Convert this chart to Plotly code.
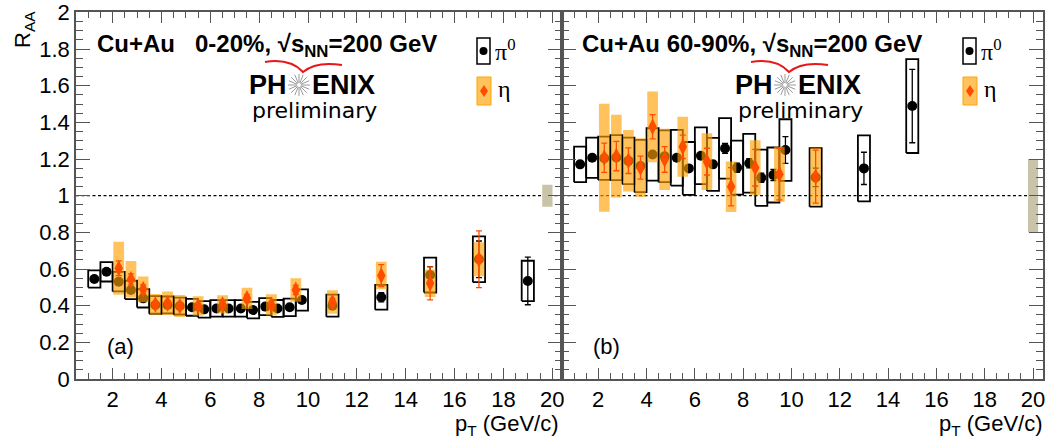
import math
import plotly.graph_objects as go

FW, FH = 1051, 446

# ---------------- data ----------------
# Cu+Au 0-20%
pi0_pt_c = [1.25, 1.75, 2.25, 2.75, 3.25, 3.75, 4.25, 4.75, 5.25, 5.75, 6.25, 6.75, 7.25, 7.75,
            8.25, 8.75, 9.25, 9.75, 11, 13, 15, 17, 19]
pi0_raa_c = [0.546, 0.585, 0.531, 0.486, 0.44, 0.404, 0.404, 0.398, 0.391, 0.38, 0.385, 0.385, 0.385,
             0.376, 0.395, 0.385, 0.391, 0.431, 0.40, 0.446, 0.567, 0.653, 0.535]
pi0_stat_c = [0.005, 0.005, 0.005, 0.005, 0.005, 0.005, 0.005, 0.005, 0.005, 0.005, 0.005, 0.005, 0.006,
              0.006, 0.007, 0.008, 0.009, 0.01, 0.012, 0.025, 0.046, 0.10, 0.13]
pi0_sys_c = [0.047, 0.053, 0.053, 0.05, 0.05, 0.048, 0.046, 0.046, 0.046, 0.045, 0.045, 0.045, 0.045,
             0.045, 0.046, 0.046, 0.048, 0.058, 0.06, 0.068, 0.095, 0.125, 0.11]

eta_pt_c = [2.25, 2.75, 3.25, 3.75, 4.25, 4.75, 5.5, 6.5, 7.5, 8.5, 9.5, 11, 13, 15, 17]
eta_raa_c = [0.604, 0.544, 0.489, 0.407, 0.413, 0.398, 0.398, 0.407, 0.44, 0.404, 0.486, 0.42,
             0.564, 0.522, 0.653]
eta_stat_c = [0.04, 0.03, 0.025, 0.015, 0.015, 0.015, 0.015, 0.015, 0.02, 0.02, 0.025, 0.02,
              0.06, 0.09, 0.155]
eta_sys_c = [0.145, 0.10, 0.07, 0.057, 0.064, 0.06, 0.053, 0.05, 0.058, 0.058, 0.064, 0.064,
             0.075, 0.075, 0.093]

# Cu+Au 60-90%
pi0_pt_p = [1.25, 1.75, 2.25, 2.75, 3.25, 3.75, 4.25, 4.75, 5.25, 5.75, 6.25, 6.75, 7.25, 7.75,
            8.25, 8.75, 9.25, 9.75, 11, 13, 15]
pi0_raa_p = [1.171, 1.207, 1.204, 1.208, 1.19, 1.162, 1.225, 1.215, 1.207, 1.149, 1.218, 1.171, 1.258,
             1.153, 1.177, 1.098, 1.113, 1.249, 1.10, 1.149, 1.489]
pi0_stat_p = [0.008, 0.008, 0.008, 0.008, 0.008, 0.009, 0.01, 0.01, 0.012, 0.013, 0.015, 0.018, 0.027,
              0.025, 0.025, 0.025, 0.03, 0.073, 0.05, 0.088, 0.2]
pi0_sys_p = [0.097, 0.11, 0.118, 0.123, 0.127, 0.143, 0.143, 0.141, 0.152, 0.144, 0.155, 0.145, 0.165,
             0.147, 0.16, 0.153, 0.15, 0.168, 0.16, 0.18, 0.256]

eta_pt_p = [2.25, 2.75, 3.25, 3.75, 4.25, 4.75, 5.5, 6.5, 7.5, 8.5, 9.5, 11]
eta_raa_p = [1.207, 1.216, 1.191, 1.153, 1.376, 1.198, 1.267, 1.186, 1.049, 1.153, 1.117, 1.104]
eta_stat_p = [0.08, 0.08, 0.07, 0.063, 0.066, 0.07, 0.064, 0.073, 0.104, 0.10, 0.14, 0.145]
eta_sys_p = [0.294, 0.226, 0.168, 0.16, 0.193, 0.167, 0.164, 0.155, 0.138, 0.15, 0.15, 0.156]

# global normalisation uncertainty boxes (one per panel)
norm_x = [19.8, 20.0]
norm_unc = [0.06, 0.20]

x_ticks = [2, 4, 6, 8, 10, 12, 14, 16, 18, 20]
y_ticks = [0, 0.2, 0.4, 0.6, 0.8, 1.0, 1.2, 1.4, 1.6, 1.8, 2.0]

panel_titles = ["Cu+Au\u00a0\u00a0\u00a00-20%, \u221as<sub>NN</sub>=200 GeV",
                "Cu+Au 60-90%, \u221as<sub>NN</sub>=200 GeV"]
panel_tags = ["(a)", "(b)"]

# ---------------- styles ----------------
PI0_HW = 0.25
ETA_HW = 0.22
ETA_FILL = "rgba(255,160,0,0.64)"
ETA_COL = "#ff4d00"
NORM_COL = "#c9c4a9"
AX_COL = "#555555"


def px(X):
    return X / FW


def py(Y):
    return 1 - Y / FH


def box_outline(xs, ys, errs, hw):
    """closed rectangles (separated by None) built from the data arrays"""
    bx, by = [], []
    for x, y, e in zip(xs, ys, errs):
        bx += [x - hw, x + hw, x + hw, x - hw, x - hw, None]
        by += [y - e, y - e, y + e, y + e, y - e, None]
    return bx, by


fig = go.Figure()

panels = [
    ("x", "y", pi0_pt_c, pi0_raa_c, pi0_stat_c, pi0_sys_c, eta_pt_c, eta_raa_c, eta_stat_c, eta_sys_c),
    ("x2", "y2", pi0_pt_p, pi0_raa_p, pi0_stat_p, pi0_sys_p, eta_pt_p, eta_raa_p, eta_stat_p, eta_sys_p),
]

for i, (xa, ya, ppt, praa, pst, psy, ept, eraa, est, esy) in enumerate(panels):
    # normalisation uncertainty
    nx, ny = box_outline([norm_x[i]], [1.0], [norm_unc[i]], 0.21)
    fig.add_trace(go.Scatter(x=nx, y=ny, mode="lines", fill="toself", fillcolor=NORM_COL,
                             line=dict(width=0, color=NORM_COL), xaxis=xa, yaxis=ya,
                             showlegend=False, hoverinfo="skip"))
    # pi0 systematic boxes
    bx, by = box_outline(ppt, praa, psy, PI0_HW)
    fig.add_trace(go.Scatter(x=bx, y=by, mode="lines", line=dict(color="black", width=1.8),
                             xaxis=xa, yaxis=ya, showlegend=False, hoverinfo="skip"))
    # pi0 points
    fig.add_trace(go.Scatter(x=ppt, y=praa, mode="markers",
                             marker=dict(symbol="circle", size=10, color="black"),
                             error_y=dict(type="data", array=pst, color="black", thickness=1.3, width=3),
                             xaxis=xa, yaxis=ya, showlegend=False, name="\u03c0<sup>0</sup>"))
    # eta systematic boxes (drawn over the pi0 points)
    ex, ey = box_outline(ept, eraa, esy, ETA_HW)
    fig.add_trace(go.Scatter(x=ex, y=ey, mode="lines", fill="toself", fillcolor=ETA_FILL,
                             line=dict(width=0, color=ETA_FILL),
                             xaxis=xa, yaxis=ya, showlegend=False, hoverinfo="skip"))
    # eta points
    fig.add_trace(go.Scatter(x=ept, y=eraa, mode="markers",
                             marker=dict(symbol="diamond-tall", size=12, color=ETA_COL),
                             error_y=dict(type="data", array=est, color=ETA_COL, thickness=1.3, width=3),
                             xaxis=xa, yaxis=ya, showlegend=False, name="\u03b7"))

shapes = []
annotations = []

for xa, ya in [("x", "y"), ("x2", "y2")]:
    shapes.append(dict(type="line", xref=xa + " domain", yref=ya, x0=0, x1=1, y0=1, y1=1,
                       line=dict(color="black", width=1.2, dash="3px,2.5px"), layer="below"))

axis_common = dict(showgrid=False, zeroline=False, showline=True, linecolor=AX_COL, linewidth=1.5,
                   mirror="allticks", ticks="inside", tickcolor=AX_COL, tickwidth=1, automargin=False)
xminor = dict(tickmode="linear", tick0=0, dtick=0.5, ticklen=6, ticks="inside", tickcolor=AX_COL)
yminor = dict(tickmode="linear", tick0=0, dtick=0.05, ticklen=7, ticks="inside", tickcolor=AX_COL)

fig.update_layout(
    width=FW, height=FH, margin=dict(l=0, r=0, t=0, b=0, pad=0, autoexpand=False),
    autosize=False,
    paper_bgcolor="white", plot_bgcolor="white", showlegend=False,
    font=dict(family="Liberation Sans, Arial, sans-serif", color="black"),
    xaxis=dict(domain=[px(76), px(562)], range=[0.5, 20.4], tickvals=x_ticks, ticklen=11,
               minor=xminor, tickfont=dict(size=22), anchor="y", **axis_common),
    xaxis2=dict(domain=[px(562), px(1042.7)], range=[0.5, 20.4], tickvals=x_ticks, ticklen=11,
                minor=xminor, tickfont=dict(size=22), anchor="y2", **axis_common),
    yaxis=dict(domain=[py(379), py(12.4)], range=[0, 2], tickvals=y_ticks, ticklen=14,
               minor=yminor, tickfont=dict(size=22), anchor="x", **axis_common),
    yaxis2=dict(domain=[py(379), py(12.4)], range=[0, 2], tickvals=y_ticks, ticklen=14,
                minor=yminor, showticklabels=False, anchor="x2", **axis_common),
)

annotations.append(dict(text="R<sub>AA</sub>", xref="paper", yref="paper", x=px(24), y=py(30),
                        xanchor="center", yanchor="middle",
                        textangle=-90, showarrow=False, font=dict(size=22)))
for xr in [561, 1045]:
    annotations.append(dict(text="p<sub>T</sub> (GeV/c)", xref="paper", yref="paper", x=px(xr), y=py(425),
                            xanchor="right", yanchor="middle", showarrow=False, font=dict(size=22)))

for i, dx in enumerate([0, 486]):
    tx = 95 if i == 0 else 580
    annotations.append(dict(text="<b>" + panel_titles[i] + "</b>", xref="paper", yref="paper",
                            x=px(tx), y=py(46), xanchor="left", yanchor="middle", showarrow=False,
                            font=dict(size=24)))
    annotations.append(dict(text=panel_tags[i], xref="paper", yref="paper",
                            x=px(120 + dx), y=py(346), xanchor="center", yanchor="middle",
                            showarrow=False, font=dict(size=22)))
    # PHENIX logo
    annotations.append(dict(text="<b>PH</b>", xref="paper", yref="paper", x=px(288.5 + dx), y=py(85),
                            xanchor="right", yanchor="middle", showarrow=False,
                            font=dict(size=27)))
    annotations.append(dict(text="<b>ENIX</b>", xref="paper", yref="paper", x=px(309.5 + dx), y=py(85),
                            xanchor="left", yanchor="middle", showarrow=False,
                            font=dict(size=27)))
    annotations.append(dict(text="preliminary", xref="paper", yref="paper", x=px(314 + dx), y=py(111),
                            xanchor="center", yanchor="middle", showarrow=False,
                            font=dict(size=22, family="DejaVu Sans")))
    cx, cy = 299 + dx, 85
    for k in range(16):
        a = k * math.pi / 8
        shapes.append(dict(type="line", xref="paper", yref="paper",
                           x0=px(cx + 2 * math.cos(a)), y0=py(cy + 2 * math.sin(a)),
                           x1=px(cx + 11 * math.cos(a)), y1=py(cy + 11 * math.sin(a)),
                           line=dict(color="#9a9a9a", width=1)))
    pts = [(265 + dx, 62), (290 + dx, 58), (303 + dx, 72), (316 + dx, 61), (342 + dx, 65)]
    path = "M {} {} Q {} {} {} {} Q {} {} {} {}".format(
        px(pts[0][0]), py(pts[0][1]), px(pts[1][0]), py(pts[1][1]), px(pts[2][0]), py(pts[2][1]),
        px(pts[3][0]), py(pts[3][1]), px(pts[4][0]), py(pts[4][1]))
    shapes.append(dict(type="path", xref="paper", yref="paper", path=path,
                       line=dict(color="#e8171b", width=2)))
    # legend
    lx = 477 + dx
    shapes.append(dict(type="rect", xref="paper", yref="paper", x0=px(lx), x1=px(lx + 13),
                       y0=py(64), y1=py(38), line=dict(color="black", width=1.5),
                       fillcolor="rgba(0,0,0,0)"))
    shapes.append(dict(type="circle", xref="paper", yref="paper", x0=px(lx + 2.5), x1=px(lx + 10.5),
                       y0=py(55), y1=py(47), line=dict(color="black", width=0), fillcolor="black"))
    shapes.append(dict(type="rect", xref="paper", yref="paper", x0=px(lx), x1=px(lx + 14),
                       y0=py(105), y1=py(77), line=dict(color="#ffa500", width=1),
                       fillcolor=ETA_FILL))
    dcx, dcy = lx + 7, 91
    shapes.append(dict(type="path", xref="paper", yref="paper",
                       path="M {} {} L {} {} L {} {} L {} {} Z".format(
                           px(dcx), py(dcy - 6), px(dcx + 4), py(dcy), px(dcx), py(dcy + 6),
                           px(dcx - 4), py(dcy)),
                       line=dict(width=0), fillcolor=ETA_COL))
    annotations.append(dict(text="\u03c0<sup>0</sup>", xref="paper", yref="paper", x=px(lx + 16),
                            y=py(50), xanchor="left", yanchor="middle", showarrow=False,
                            font=dict(size=24, family="Liberation Serif")))
    annotations.append(dict(text="\u03b7", xref="paper", yref="paper", x=px(lx + 19),
                            y=py(89), xanchor="left", yanchor="middle", showarrow=False,
                            font=dict(size=24, family="Liberation Serif")))

fig.update_layout(shapes=shapes, annotations=annotations)
# remove the default page margin so the figure sits exactly in the window
fig.write_html("out.html", config={"displayModeBar": False},
               post_script="document.body.style.margin='0';document.body.style.overflow='hidden';")
